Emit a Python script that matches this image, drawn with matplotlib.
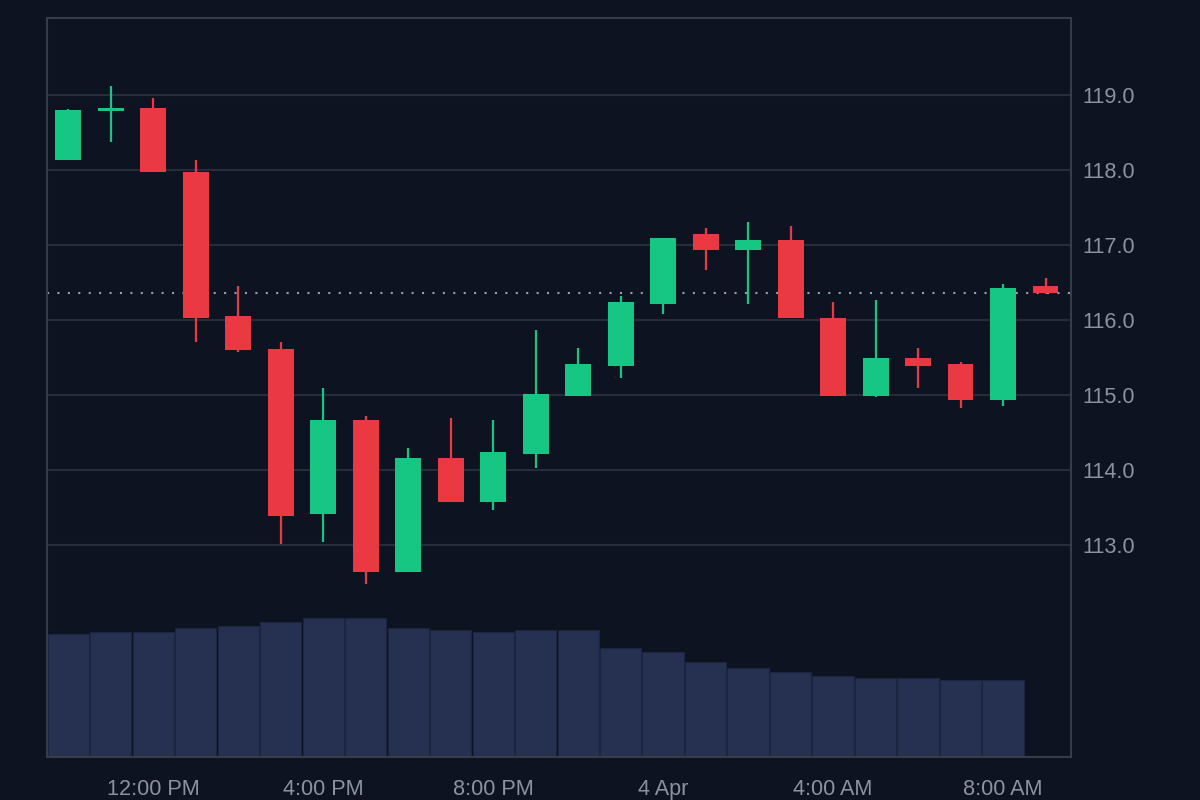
import matplotlib
matplotlib.use("Agg")
import matplotlib.pyplot as plt
import numpy as np

# ---- data (hourly candles, 3 Apr 10:00 -> 4 Apr 09:00) ----
opens  = [118.13, 118.79, 118.83, 117.98, 116.05, 115.62, 113.41, 114.67, 112.64, 114.16,
          113.57, 114.21, 114.99, 115.39, 116.21, 117.15, 116.93, 117.07, 116.03, 114.99,
          115.49, 115.41, 114.93, 116.45]
highs  = [118.82, 119.12, 118.96, 118.13, 116.45, 115.71, 115.09, 114.72, 114.29, 114.69,
          114.67, 115.87, 115.63, 116.32, 117.09, 117.23, 117.31, 117.25, 116.24, 116.27,
          115.63, 115.44, 116.48, 116.56]
lows   = [118.13, 118.38, 117.98, 115.71, 115.58, 113.01, 113.04, 112.48, 112.64, 113.57,
          113.47, 114.03, 114.99, 115.23, 116.08, 116.67, 116.21, 116.03, 114.99, 114.97,
          115.09, 114.83, 114.85, 116.35]
closes = [118.80, 118.81, 117.98, 116.03, 115.60, 113.39, 114.67, 112.64, 114.16, 113.57,
          114.24, 115.01, 115.41, 116.24, 117.09, 116.93, 117.07, 116.03, 114.99, 115.49,
          115.39, 114.93, 116.43, 116.36]
volumes = [123, 125, 125, 129, 131, 135, 139, 139, 129, 127, 125, 127, 127,
           109, 105, 95, 89, 85, 81, 79, 79, 77, 77]
tick_idx = [2, 6, 10, 14, 18, 22]
tick_labels = ["12:00 PM", "4:00 PM", "8:00 PM", "4 Apr", "4:00 AM", "8:00 AM"]
y_ticks = [113.0, 114.0, 115.0, 116.0, 117.0, 118.0, 119.0]

# ---- style ----
BG = "#0d1320"
GREEN = "#16c784"
RED = "#ea3943"
VOL = "#263050"
GRID = "#262c38"
SPINE = "#363c48"
TXT = "#8c92a0"
FONT = "Liberation Sans"

fig = plt.figure(figsize=(12, 8), dpi=100)
fig.patch.set_facecolor(BG)
rect = [47/1200, 43/800, 1024/1200, 739/800]

# volume axes (behind)
axv = fig.add_axes(rect, zorder=0)
axv.set_facecolor(BG)
xv = np.arange(len(volumes))
axv.bar(xv, volumes, width=0.97, color=VOL, edgecolor="#1c2440", linewidth=0.8)
axv.set_ylim(0, max(volumes) * 739 / 139)
axv.set_xlim(-0.5, 23.6)
axv.axis("off")

# price axes
ax = fig.add_axes(rect, zorder=1)
ax.set_facecolor("none")
x = np.arange(len(opens))
o = np.array(opens); c = np.array(closes); h = np.array(highs); l = np.array(lows)
up = c >= o
cols = np.where(up, GREEN, RED)

ax.vlines(x, l, h, colors=cols, linewidth=1.6, zorder=3)
bottoms = np.minimum(o, c)
heights = np.maximum(np.abs(c - o), 0.045)
ax.bar(x, heights, bottom=bottoms, width=0.61, color=cols, zorder=4, linewidth=0)

# last price dotted line
ax.axhline(closes[-1], color="#9aa0ab", linestyle=(0, (1, 4)), linewidth=1.5, zorder=2)

ax.set_xlim(-0.5, 23.6)
ax.set_ylim(110.17, 120.03)
ax.set_yticks(y_ticks)
ax.set_yticklabels([f"{v:.1f}" for v in y_ticks])
ax.yaxis.tick_right()
ax.set_xticks(tick_idx)
ax.set_xticklabels(tick_labels)
ax.grid(axis="y", color=GRID, linewidth=1.5, zorder=1)
ax.grid(axis="x", visible=False)
ax.tick_params(axis="y", length=0, pad=8.5, labelcolor=TXT, labelsize=15.6)
ax.tick_params(axis="x", length=0, pad=16, labelcolor=TXT, labelsize=15.6)
for lab in ax.get_xticklabels() + ax.get_yticklabels():
    lab.set_fontfamily(FONT)
for s in ax.spines.values():
    s.set_color(SPINE)
    s.set_linewidth(1.5)

fig.savefig("out.png", dpi=100, facecolor=BG)
